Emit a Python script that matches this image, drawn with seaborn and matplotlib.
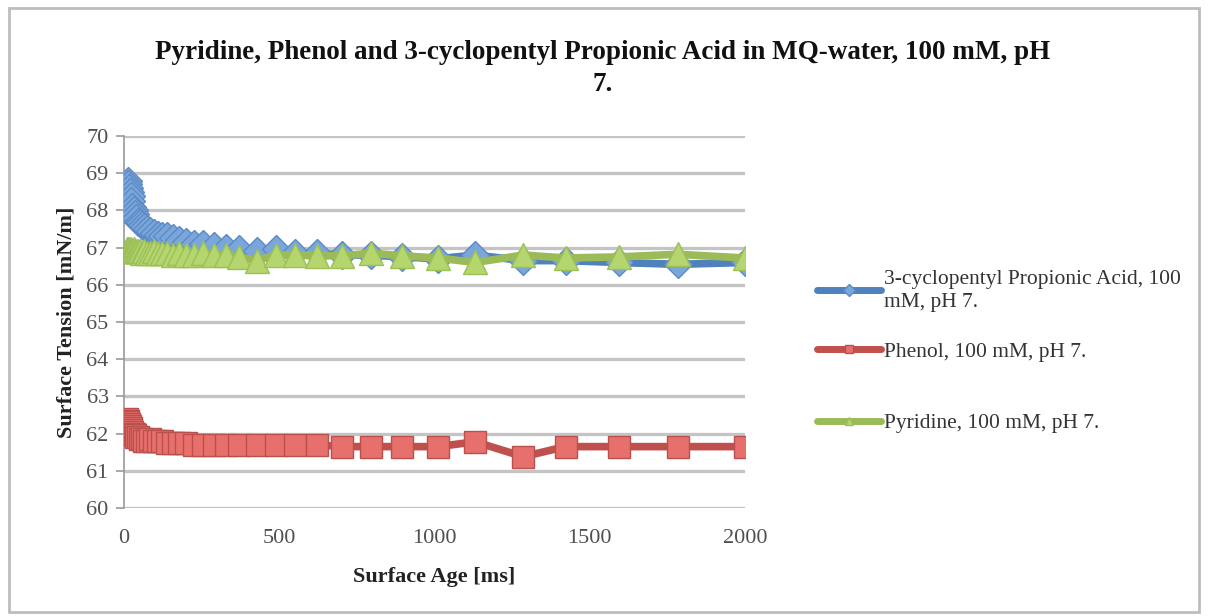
import numpy as np
import pandas as pd
import seaborn as sns
import matplotlib
matplotlib.use("Agg")
import matplotlib.pyplot as plt
from matplotlib.lines import Line2D
from matplotlib.patches import Rectangle

# ---- data ----
surface_age = [10, 12, 14, 16, 18, 21, 24, 27, 31, 35, 40, 45, 51, 58, 66, 75, 85, 96,
               109, 123, 139, 157, 178, 201, 227, 256, 290, 327, 370, 428, 490, 551,
               621, 702, 795, 895, 1011, 1131, 1286, 1422, 1593, 1783, 2000]

acid = [68.75, 68.8, 68.7, 68.6, 68.5, 68.4, 68.25, 68.1, 68.0, 67.9, 67.8, 67.7, 67.65,
        67.6, 67.55, 67.5, 67.45, 67.4, 67.35, 67.3, 67.3, 67.25, 67.2, 67.15, 67.1, 67.1,
        67.05, 67.0, 66.95, 66.9, 66.95, 66.85, 66.85, 66.8, 66.8, 66.75, 66.7, 66.8,
        66.65, 66.65, 66.6, 66.55, 66.6]

phenol = [62.4, 62.35, 62.3, 62.25, 62.2, 62.15, 62.1, 62.05, 62.0, 61.95, 61.9, 61.9,
          61.85, 61.85, 61.8, 61.8, 61.85, 61.8, 61.8, 61.8, 61.75, 61.75, 61.75, 61.75,
          61.7, 61.7, 61.7, 61.7, 61.7, 61.7, 61.7, 61.7, 61.7, 61.65, 61.65, 61.65,
          61.65, 61.78, 61.38, 61.65, 61.65, 61.65, 61.65]

pyridine = [66.95, 66.95, 66.9, 66.95, 66.9, 66.95, 66.9, 66.9, 66.95, 66.9, 66.9, 66.9,
            66.9, 66.85, 66.9, 66.85, 66.85, 66.9, 66.85, 66.85, 66.85, 66.8, 66.85, 66.8,
            66.8, 66.85, 66.8, 66.8, 66.75, 66.65, 66.8, 66.8, 66.78, 66.78, 66.85,
            66.78, 66.72, 66.6, 66.8, 66.72, 66.75, 66.82, 66.72]

series_names = ["3-cyclopentyl Propionic Acid, 100\nmM, pH 7.",
                "Phenol, 100 mM, pH 7.",
                "Pyridine, 100 mM, pH 7."]

title = "Pyridine, Phenol and 3-cyclopentyl Propionic Acid in MQ-water, 100 mM, pH\n7."
x_label = "Surface Age [ms]"
y_label = "Surface Tension [mN/m]"
x_ticks = [0, 500, 1000, 1500, 2000]
y_ticks = [60, 61, 62, 63, 64, 65, 66, 67, 68, 69, 70]

# ---- styling ----
sns.set_theme(style="white")
plt.rcParams['font.family'] = ['Liberation Serif', 'DejaVu Serif']

line_colors = ["#4F81BD", "#C0504D", "#9BBB59"]
face_colors = ["#7BA6DA", "#E8706C", "#B5D66E"]
edge_colors = ["#5B8BC6", "#B9504D", "#9CBF57"]
markers = ["D", "s", "^"]
msizes = [14, 16, 17]

fig = plt.figure(figsize=(12.1, 6.16), dpi=100)
ax = fig.add_axes([124 / 1210, 1 - 508 / 616, (745 - 124) / 1210, (508 - 136) / 616])

values = [acid, phenol, pyridine]
for i, (name, vals) in enumerate(zip(series_names, values)):
    df = pd.DataFrame({"age": surface_age, "tension": vals})
    sns.lineplot(data=df, x="age", y="tension", ax=ax, color=line_colors[i],
                 linewidth=5.5, marker=markers[i], markersize=msizes[i],
                 markerfacecolor=face_colors[i], markeredgecolor=edge_colors[i],
                 markeredgewidth=1.0, zorder=3 + i, legend=False)

ax.set_xlim(0, 2000)
ax.set_ylim(60, 70)
ax.set_xticks(x_ticks)
ax.set_yticks(y_ticks)
ax.grid(axis="y", color="#C4C4C4", linewidth=2.4)
ax.grid(axis="x", visible=False)
ax.set_axisbelow(True)
for s in ["top", "right", "bottom"]:
    ax.spines[s].set_visible(False)
ax.spines["left"].set_color("#9A9A9A")
ax.spines["left"].set_linewidth(1.2)
ax.tick_params(axis="y", which="major", left=True, length=6, width=1.2, color="#9A9A9A",
               labelsize=16, labelcolor="#505050", pad=5)
ax.tick_params(axis="x", which="major", bottom=False, labelsize=16, labelcolor="#505050", pad=9)

ax.set_xlabel(x_label, fontsize=16, fontweight="bold", color="#222222", labelpad=14)
ax.set_ylabel(y_label, fontsize=16, fontweight="bold", color="#222222", labelpad=7)

fig.text(603 / 1210, 1 - 40 / 616, title, ha="center", va="top", fontsize=19.5,
         fontweight="bold", color="#111111", linespacing=1.35)

legend_y = [291, 352, 423]
for i in range(3):
    h = Line2D([0], [0], color=line_colors[i], linewidth=5, marker=markers[i],
               markersize=6, markerfacecolor=face_colors[i],
               markeredgecolor=edge_colors[i])
    leg = fig.legend([h], [series_names[i]], loc="center left",
                     bbox_to_anchor=(806 / 1210, 1 - legend_y[i] / 616), frameon=False,
                     fontsize=15.5, handlelength=3.0, handletextpad=0.1, borderpad=0)
    for t in leg.get_texts():
        t.set_color("#333333")
        t.set_linespacing(1.35)

fig.add_artist(Rectangle((9 / 1210, 4 / 616), 1190 / 1210, 604 / 616,
                         transform=fig.transFigure, fill=False,
                         edgecolor="#BDBDBD", linewidth=2))

fig.savefig("out.png", dpi=100)
